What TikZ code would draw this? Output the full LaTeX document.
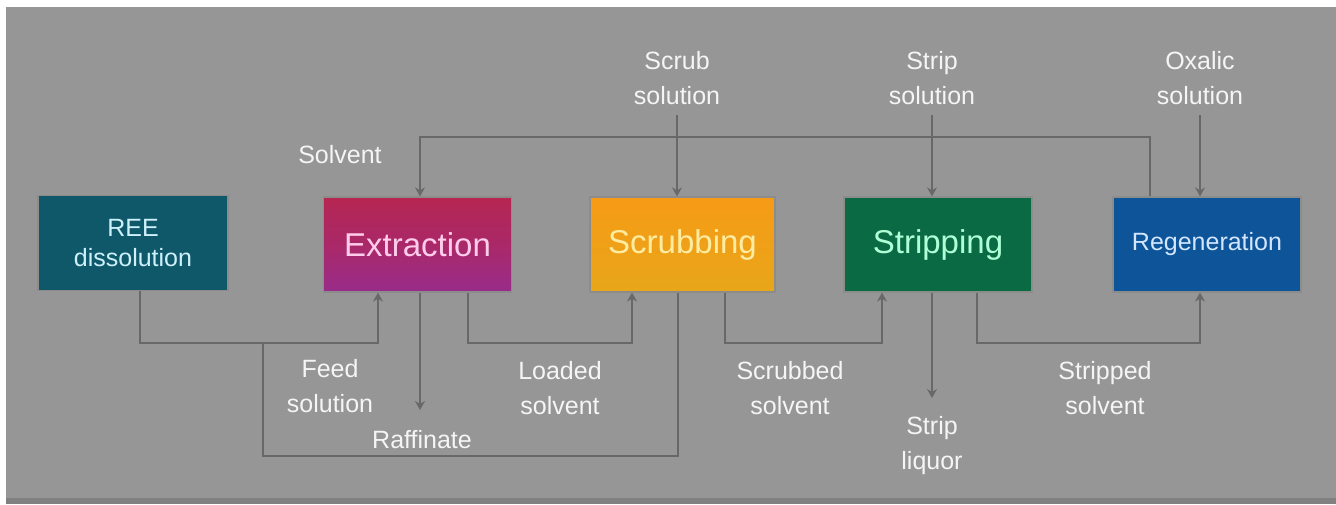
\documentclass[tikz,border=0pt]{standalone}
\usepackage{fontspec}
\setmainfont{Liberation Sans}
\usetikzlibrary{arrows.meta,calc}
\definecolor{bg}{RGB}{150,150,150}
\definecolor{pipe}{RGB}{104,104,104}
\definecolor{pipehi}{RGB}{178,178,178}
\definecolor{labeltxt}{RGB}{245,245,245}
\definecolor{reefill}{RGB}{14,88,106}
\definecolor{reetxt}{RGB}{205,240,250}
\definecolor{exttop}{RGB}{182,38,82}
\definecolor{extbot}{RGB}{152,44,138}
\definecolor{exttxt}{RGB}{255,205,235}
\definecolor{scrtop}{RGB}{246,155,22}
\definecolor{scrbot}{RGB}{232,166,26}
\definecolor{scrtxt}{RGB}{255,236,160}
\definecolor{strfill}{RGB}{10,106,68}
\definecolor{strtxt}{RGB}{175,255,215}
\definecolor{regfill}{RGB}{14,84,152}
\definecolor{regtxt}{RGB}{210,230,255}
\tikzset{
  unit/.style={draw=black!45, line width=0.6pt, minimum width=94pt, minimum height=47.5pt,
    inner sep=0pt, align=center},
  bigtxt/.style={font=\fontsize{16.5}{19}\selectfont},
  smalltxt/.style={font=\fontsize{12.5}{15}\selectfont},
  lbl/.style={text=labeltxt, align=center, inner sep=1pt,
    font=\fontsize{12.5}{17.5}\selectfont},
  pipeline/.style={draw=pipe, line width=1.3pt},
  flow/.style={pipeline, -{Stealth[length=4.5pt,width=5pt]}},
}
\begin{document}
\begin{tikzpicture}[x=0.5pt,y=-0.5pt]
% page and backdrop
\fill[white] (0,0) rectangle (1336,504);
\fill[bg] (6,7) rectangle (1336,504);
\fill[black!50] (6,498) rectangle (1336,504);
\useasboundingbox (0,0) rectangle (1336,504);

% process units
\node[unit, smalltxt, fill=reefill, text=reetxt, minimum width=95pt] (ree) at (133,243) {REE\\dissolution};
\node[unit, bigtxt, top color=exttop, bottom color=extbot, middle color=exttop!60!extbot,
      text=exttxt] (ext) at (417.5,244.5) {Extraction};
\node[unit, bigtxt, top color=scrtop, bottom color=scrbot, text=scrtxt,
      minimum width=92.5pt] (scr) at (682.5,244.5) {Scrubbing};
\node[unit, bigtxt, fill=strfill, text=strtxt] (str) at (938,244.5) {Stripping};
\node[unit, smalltxt, fill=regfill, text=regtxt] (reg) at (1207,244.5) {Regeneration};

% incoming solutions
\node[lbl] (scrsol) at (677,78) {Scrub\\solution};
\node[lbl] (strsol) at (932,78) {Strip\\solution};
\node[lbl] (oxsol) at (1200,78) {Oxalic\\solution};
\node[lbl] (solv) at (340,155) {Solvent};

% stream labels below the units
\node[lbl] (feedlbl) at (330,386) {Feed\\solution};
\node[lbl] (raflbl) at (422,440) {Raffinate};
\node[lbl] (loadlbl) at (560,388) {Loaded\\solvent};
\node[lbl] (scrblbl) at (790,388) {Scrubbed\\solvent};
\node[lbl] (liqlbl) at (932,446) {Strip\\liquor};
\node[lbl] (stplbl) at (1105,388) {Stripped\\solvent};

% bend points of the pipes
\coordinate (topL) at (420,137);
\coordinate (topR) at (1150,137);
\coordinate (feedL) at (140,343);
\coordinate (feedR) at (378,343);
\coordinate (raf) at (420,410);
\coordinate (ldL) at (468,343);
\coordinate (ldR) at (632,343);
\coordinate (rcR) at (678,456);
\coordinate (rcL) at (263,456);
\coordinate (sbL) at (725,343);
\coordinate (sbR) at (882,343);
\coordinate (liq) at (932,398);
\coordinate (spL) at (977,343);
\coordinate (spR) at (1200,343);

% regenerated solvent back to extraction
\draw[flow] (reg.north -| topR) -- (topR) -- (topL) -- (ext.north -| topL);
% fresh solutions from above
\draw[flow] ([yshift=-4pt]scrsol.south) -- (scr.north -| scrsol);
\draw[flow] ([yshift=-4pt]strsol.south) -- (str.north -| strsol);
\draw[flow] ([yshift=-4pt]oxsol.south) -- (reg.north -| oxsol);
% feed solution
\draw[flow] (ree.south -| feedL) -- (feedL) -- (feedR) -- (ext.south -| feedR);
% raffinate
\draw[flow] (ext.south -| raf) -- (raf);
% loaded solvent
\draw[flow] (ext.south -| ldL) -- (ldL) -- (ldR) -- (scr.south -| ldR);
% scrub liquor returned to the feed
\draw[pipeline] (scr.south -| rcR) -- (rcR) -- (rcL) -- (rcL |- feedL);
% scrubbed solvent
\draw[flow] (scr.south -| sbL) -- (sbL) -- (sbR) -- (str.south -| sbR);
% strip liquor
\draw[flow] (str.south -| liq) -- (liq);
% stripped solvent
\draw[flow] (str.south -| spL) -- (spL) -- (spR) -- (reg.south -| spR);
\end{tikzpicture}
\end{document}
